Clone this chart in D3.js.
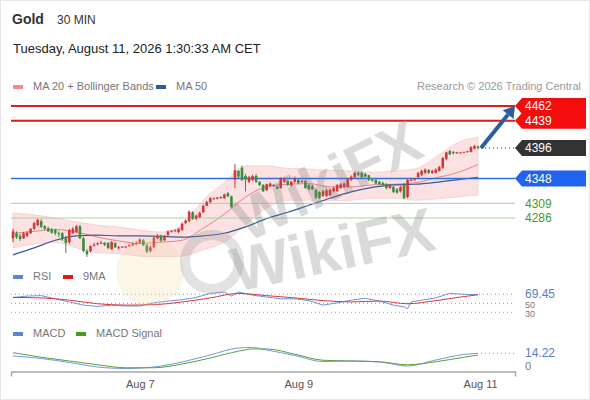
<!DOCTYPE html>
<html>
<head>
<meta charset="utf-8">
<script src="https://cdn.jsdelivr.net/npm/d3@7"></script>
<style>
  body { margin: 0; background: #fff; }
  svg { display: block; font-family: "Liberation Sans", Arial, sans-serif; }
</style>
</head>
<body>
<svg width="590" height="400"></svg>
<script>
// 30 min candles, Aug 6 morning -> Aug 11 01:00
var opens = [4254,4262,4258,4254,4258,4262,4269,4275,4281,4273,4270,4268,4267,4262,4262,4254,4248,4262,4264,4273,
  4254,4234,4234,4243,4245,4247,4247,4247,4237,4247,4240,4241,4241,4242,4243,4245,4247,4251,4243,4234,
  4240,4254,4258,4251,4259,4265,4266,4264,4267,4278,4281,4295,4285,4287,4295,4305,4311,4316,4317,4318,
  4317,4325,4320,4346,4360,4365,4352,4343,4346,4352,4343,4338,4330,4336,4338,4335,4333,4343,4344,4337,
  4343,4346,4343,4344,4338,4336,4330,4327,4321,4321,4322,4328,4328,4333,4335,4335,4346,4350,4357,4357,
  4355,4353,4346,4346,4343,4341,4339,4333,4335,4331,4328,4339,4319,4345,4346,4350,4354,4357,4361,4357,
  4357,4360,4365,4379,4391,4390,4389,4389,4389,4390,4390,4395,4398];
var highs = [4269,4265,4261,4264,4265,4270,4280,4285,4284,4275,4272,4270,4269,4265,4264,4258,4269,4272,4275,4275,
  4256,4237,4243,4247,4248,4250,4248,4248,4250,4248,4242,4242,4242,4245,4247,4249,4254,4253,4245,4243,
  4257,4261,4260,4259,4266,4267,4268,4270,4279,4284,4298,4297,4291,4296,4307,4313,4319,4318,4319,4320,
  4324,4327,4321,4371,4361,4368,4355,4352,4354,4355,4344,4339,4340,4342,4339,4337,4350,4349,4346,4344,
  4351,4347,4346,4346,4339,4338,4332,4328,4330,4332,4332,4335,4339,4341,4342,4349,4353,4358,4359,4358,
  4357,4354,4348,4347,4344,4343,4341,4339,4336,4333,4336,4341,4347,4348,4349,4358,4362,4364,4363,4362,
  4364,4368,4382,4390,4393,4391,4390,4390,4390,4391,4399,4401,4400];
var lows = [4248,4253,4250,4253,4256,4261,4267,4273,4270,4267,4264,4261,4259,4256,4250,4231,4245,4261,4262,4253,
  4232,4225,4232,4241,4243,4245,4242,4237,4236,4239,4237,4240,4240,4241,4242,4243,4245,4242,4231,4232,
  4239,4253,4248,4250,4258,4263,4264,4262,4266,4276,4280,4283,4283,4286,4294,4305,4309,4315,4315,4316,
  4316,4319,4302,4333,4349,4344,4328,4341,4344,4341,4336,4327,4328,4335,4335,4331,4332,4341,4336,4335,
  4341,4339,4341,4332,4330,4330,4316,4316,4319,4319,4321,4326,4327,4332,4333,4334,4344,4349,4352,4349,
  4350,4344,4343,4339,4338,4336,4331,4332,4325,4324,4326,4316,4317,4344,4345,4349,4352,4355,4355,4355,
  4356,4359,4363,4377,4385,4386,4387,4388,4388,4389,4389,4394,4394];
var closes = [4265,4256,4253,4262,4263,4269,4278,4283,4272,4269,4265,4263,4262,4261,4253,4247,4267,4269,4273,4254,
  4234,4229,4242,4244,4246,4247,4244,4239,4248,4240,4240,4241,4241,4243,4246,4247,4252,4243,4233,4240,
  4255,4258,4250,4258,4265,4266,4267,4269,4277,4282,4296,4285,4290,4294,4305,4311,4317,4317,4318,4319,
  4323,4320,4304,4361,4351,4346,4347,4350,4352,4343,4338,4328,4339,4340,4336,4332,4348,4347,4338,4343,
  4348,4341,4344,4333,4331,4331,4318,4317,4328,4329,4330,4333,4338,4339,4340,4347,4351,4357,4354,4350,
  4351,4346,4345,4340,4339,4338,4333,4337,4327,4326,4335,4317,4346,4346,4347,4357,4360,4362,4357,4360,
  4362,4366,4380,4389,4386,4388,4389,4389,4390,4391,4397,4399,4396];

// moving averages and Bollinger Bands, read every 6 candles
var maIdx = [0,6,12,18,24,30,36,42,48,54,60,66,72,78,84,90,96,102,108,114,120,126,132];
var ma20 = [4262,4265,4268,4264,4256,4250,4246,4248,4251,4270,4292,4319,4335,4339,4340,4335,4335,4338,4339,4341,4349,4357,4370];
var ma50 = [4228,4239,4251,4258,4259,4258,4258,4257,4256,4258,4262,4272,4285,4295,4306,4317,4327,4334,4338,4339,4342,4346,4350];
var bbUpper = [4294,4291,4286,4280,4275,4272,4267,4264,4275,4314,4342,4368,4368,4364,4363,4361,4360,4358,4360,4363,4382,4404,4413];
var bbLower = [4239,4245,4248,4239,4231,4230,4226,4225,4226,4236,4248,4275,4302,4314,4314,4313,4314,4317,4317,4314,4316,4319,4322];

// key levels
var levelValues = [4462, 4439, 4396, 4348, 4309, 4286];
var levelKinds = ["res", "res", "last", "pivot", "sup", "sup"];
var target = 4462;

// RSI + 9MA
var rsiIdx = [0,4,8,12,16,20,24,28,32,36,40,44,48,52,56,60,62,64,68,72,76,80,84,88,92,96,100,104,108,111,112,113,116,120,124,128,132];
var rsiVal = [63,66,67,60,53,46,43,46,44,44,51,55,58,63,72,75,66,75,68,64,60,60,56,46,51,57,61,55,46,42,38,53,57,62,72,70,69.45];
var rsiMaIdx = [0,8,16,24,32,40,48,56,64,72,80,88,96,104,112,120,128,132];
var rsiMa = [63,62,57,49,46,47,53,62,72,67,62,56,53,55,49,56,65,69];
var rsiLevels = [70, 50, 30];

// MACD
var macdIdx = [0,8,16,24,32,40,48,56,64,68,72,80,88,96,104,112,120,128,132];
var macd = [10.7,7.3,2,-4,-6,-4,2.7,12,21.3,22,18.7,11.3,3.3,4,2.7,-2.7,5.3,12.7,14.22];
var macdSignal = [15,9,4,-1,-5,-5,0,8,17,20,20,13,5,4,3,-1,3,9,12];

var dateTicks = [36, 81, 132.6];
var dateLabels = ["Aug 7", "Aug 9", "Aug 11"];

var svg = d3.select("svg"),
    width = +svg.attr("width"),
    height = +svg.attr("height"),
    n = closes.length,
    left = 11,
    right = 515,
    upColor = "#d2373a",
    downColor = "#3b8c3b";

svg.append("rect").attr("x", 0.5).attr("y", 0.5).attr("width", width - 1).attr("height", height - 1)
  .attr("fill", "#fff").attr("stroke", "#e6e6e6");

var x = d3.scaleLinear().domain([0, n - 1]).range([13, 478]);
var y = d3.scaleLinear().domain([4286, 4462]).range([218, 106]);
var yRsi = d3.scaleLinear().domain([30, 70]).range([312.3, 294.3]);
var yMacd = d3.scaleLinear().domain([0, 14.22]).range([364, 353.3]);

// header
svg.append("text").attr("x", 12).attr("y", 24).attr("font-size", 14).attr("font-weight", "bold")
  .attr("fill", "#333").text("Gold");
svg.append("text").attr("x", 57).attr("y", 23.5).attr("font-size", 12).attr("fill", "#333").text("30 MIN");
svg.append("text").attr("x", 13).attr("y", 53).attr("font-size", 13).attr("fill", "#222")
  .text("Tuesday, August 11, 2026 1:30:33 AM CET");

function legend(g, items, yy) {
  items.forEach(function(d) {
    g.append("rect").attr("x", d.x).attr("y", yy - 5).attr("width", d.w).attr("height", 4).attr("fill", d.color);
    g.append("text").attr("x", d.x + d.w + 10).attr("y", yy).attr("font-size", 11).attr("fill", "#777").text(d.label);
  });
}
legend(svg, [
  {x: 13, w: 10, color: "#f08c8c", label: "MA 20 + Bollinger Bands"},
  {x: 156, w: 10, color: "#2f5b98", label: "MA 50"}
], 90);
svg.append("text").attr("x", 581).attr("y", 90).attr("text-anchor", "end").attr("font-size", 11)
  .attr("fill", "#9a9a9a").text("Research \u00a9 2026 Trading Central");

// bands and averages
var bandData = maIdx.map(function(d, i) { return {i: d, hi: bbUpper[i], lo: bbLower[i], m20: ma20[i], m50: ma50[i]}; });
svg.append("path").datum(bandData)
  .attr("d", d3.area().curve(d3.curveMonotoneX)
    .x(function(d) { return x(d.i); }).y0(function(d) { return y(d.lo); }).y1(function(d) { return y(d.hi); }))
  .attr("fill", "#f7c9c9").attr("fill-opacity", 0.55)
  .attr("stroke", "#f3b5b5").attr("stroke-opacity", 0.6).attr("stroke-width", 0.8);
svg.append("path").datum(bandData)
  .attr("d", d3.line().curve(d3.curveMonotoneX).x(function(d) { return x(d.i); }).y(function(d) { return y(d.m20); }))
  .attr("fill", "none").attr("stroke", "#e58484").attr("stroke-width", 1);
svg.append("path").datum(bandData)
  .attr("d", d3.line().curve(d3.curveMonotoneX).x(function(d) { return x(d.i); }).y(function(d) { return y(d.m50); }))
  .attr("fill", "none").attr("stroke", "#355d9c").attr("stroke-width", 1.2);

// level lines
var levelStyle = {
  res:   {line: "#e01b1b", width: 2, box: "#f30d0d", text: "#fff"},
  last:  {line: null, width: 0, box: "#333333", text: "#fff"},
  pivot: {line: "#2f6fe4", width: 1.5, box: "#1f63ef", text: "#fff"},
  sup:   {line: "#a9d39d", width: 1, box: null, text: "#3f9a32"}
};
levelValues.forEach(function(v, i) {
  var s = levelStyle[levelKinds[i]];
  if (s.line) {
    svg.append("line").attr("x1", left).attr("x2", right).attr("y1", y(v)).attr("y2", y(v))
      .attr("stroke", s.line).attr("stroke-width", s.width);
  }
});
svg.append("line").attr("x1", x(n - 1) + 3).attr("x2", right).attr("y1", y(closes[n - 1])).attr("y2", y(closes[n - 1]))
  .attr("stroke", "#333").attr("stroke-dasharray", "1,3");

// candles
var candles = svg.append("g").selectAll("g").data(closes).enter().append("g");
candles.append("line")
  .attr("x1", function(d, i) { return x(i); }).attr("x2", function(d, i) { return x(i); })
  .attr("y1", function(d, i) { return y(highs[i]); }).attr("y2", function(d, i) { return y(lows[i]); })
  .attr("stroke", function(d, i) { return d >= opens[i] ? upColor : downColor; }).attr("stroke-width", 1);
candles.append("rect")
  .attr("x", function(d, i) { return x(i) - 1.3; }).attr("width", 2.6)
  .attr("y", function(d, i) { return y(Math.max(d, opens[i])); })
  .attr("height", function(d, i) { return Math.max(1, Math.abs(y(d) - y(opens[i]))); })
  .attr("fill", function(d, i) { return d >= opens[i] ? upColor : downColor; });

// forecast arrow
var ax0 = x(n - 1) + 3, ay0 = y(closes[n - 1]), ax1 = right, ay1 = y(target);
var ang = Math.atan2(ay1 - ay0, ax1 - ax0), head = 11;
svg.append("line").attr("x1", ax0).attr("y1", ay0)
  .attr("x2", ax1 - head * Math.cos(ang)).attr("y2", ay1 - head * Math.sin(ang))
  .attr("stroke", "#2c5d9e").attr("stroke-width", 4);
svg.append("path").attr("fill", "#2c5d9e").attr("d", d3.line()([
  [ax1, ay1],
  [ax1 - head * Math.cos(ang) + 7 * Math.sin(ang), ay1 - head * Math.sin(ang) - 7 * Math.cos(ang)],
  [ax1 - head * Math.cos(ang) - 7 * Math.sin(ang), ay1 - head * Math.sin(ang) + 7 * Math.cos(ang)]
]) + "Z");

// level tags
levelValues.forEach(function(v, i) {
  var s = levelStyle[levelKinds[i]], yy = y(v);
  if (s.box) {
    svg.append("path").attr("fill", s.box).attr("d", d3.line()([
      [515, yy], [522, yy - 8], [586, yy - 8], [586, yy + 8], [522, yy + 8]
    ]) + "Z");
  }
});
levelValues.forEach(function(v, i) {
  var s = levelStyle[levelKinds[i]];
  svg.append("text").attr("x", 525).attr("y", y(v)).attr("dy", "0.36em").attr("font-size", 12)
    .attr("fill", s.text).text(v);
});

// RSI panel
legend(svg, [
  {x: 13, w: 10, color: "#5b86d8", label: "RSI"},
  {x: 63, w: 10, color: "#e0191b", label: "9MA"}
], 280);
rsiLevels.forEach(function(v) {
  svg.append("line").attr("x1", left).attr("x2", right).attr("y1", yRsi(v)).attr("y2", yRsi(v))
    .attr("stroke", "#999").attr("stroke-dasharray", "1,3");
});
svg.append("path").datum(rsiIdx.map(function(d, i) { return [x(d), yRsi(rsiVal[i])]; }))
  .attr("d", d3.line()).attr("fill", "none").attr("stroke", "#6f93de").attr("stroke-width", 1);
svg.append("path").datum(rsiMaIdx.map(function(d, i) { return [x(d), yRsi(rsiMa[i])]; }))
  .attr("d", d3.line().curve(d3.curveMonotoneX)).attr("fill", "none").attr("stroke", "#d8383c").attr("stroke-width", 1);
svg.append("text").attr("x", 525).attr("y", yRsi(50)).attr("dy", "0.5em").attr("font-size", 9).attr("fill", "#777").text("50");
svg.append("text").attr("x", 525).attr("y", yRsi(30)).attr("dy", "0.5em").attr("font-size", 9).attr("fill", "#777").text("30");
svg.append("text").attr("x", 525).attr("y", yRsi(rsiVal[rsiVal.length - 1])).attr("dy", "0.28em").attr("font-size", 12)
  .attr("fill", "#5a7dc4").text(rsiVal[rsiVal.length - 1].toFixed(2));

// MACD panel
legend(svg, [
  {x: 13, w: 10, color: "#5b86d8", label: "MACD"},
  {x: 76, w: 10, color: "#4c9a26", label: "MACD Signal"}
], 337);
svg.append("path").datum(macdIdx.map(function(d, i) { return [x(d), yMacd(macd[i])]; }))
  .attr("d", d3.line().curve(d3.curveMonotoneX)).attr("fill", "none").attr("stroke", "#7797dd").attr("stroke-width", 1);
svg.append("path").datum(macdIdx.map(function(d, i) { return [x(d), yMacd(macdSignal[i])]; }))
  .attr("d", d3.line().curve(d3.curveMonotoneX)).attr("fill", "none").attr("stroke", "#58a03a").attr("stroke-width", 1);
var lastMacd = macd[macd.length - 1];
svg.append("line").attr("x1", x(n - 1) + 3).attr("x2", right).attr("y1", yMacd(lastMacd)).attr("y2", yMacd(lastMacd))
  .attr("stroke", "#999").attr("stroke-dasharray", "1,3");
svg.append("text").attr("x", 525).attr("y", yMacd(lastMacd)).attr("dy", "0.3em").attr("font-size", 12)
  .attr("fill", "#5a7dc4").text(lastMacd.toFixed(2));
svg.append("text").attr("x", 525).attr("y", yMacd(0)).attr("dy", "0.5em").attr("font-size", 11)
  .attr("fill", "#777").text("0");

// time axis
var xAxisScale = x.copy().domain([x.invert(left), x.invert(right)]).range([left, right]);
var axis = svg.append("g").attr("transform", "translate(0,371.5)")
  .call(d3.axisBottom(xAxisScale).tickValues(dateTicks)
    .tickFormat(function(d, i) { return dateLabels[i]; })
    .tickSizeInner(0).tickSizeOuter(5).tickPadding(9));
axis.select(".domain").attr("stroke", "#a8a8a8").attr("stroke-width", 1.5);
axis.selectAll("text").attr("font-size", 11).attr("fill", "#555").attr("font-family", "Liberation Sans, Arial, sans-serif");

// WikiFX watermark
var wm = svg.append("g").attr("pointer-events", "none");
wm.append("circle").attr("cx", 150).attr("cy", 272).attr("r", 34).attr("fill", "#f2d49a").attr("opacity", 0.22);
wm.append("circle").attr("cx", 212).attr("cy", 262).attr("r", 27).attr("fill", "none")
  .attr("stroke", "#8a8a8a").attr("stroke-width", 10).attr("opacity", 0.25);
wm.append("text").attr("transform", "translate(247,243) rotate(-26)")
  .attr("font-size", 60).attr("font-weight", "bold").attr("fill", "#7d7d7d").attr("opacity", 0.28).text("WikiFX");
wm.append("text").attr("transform", "translate(236,292) rotate(-12)")
  .attr("font-size", 62).attr("font-weight", "bold").attr("fill", "#7d7d7d").attr("opacity", 0.28).text("WikiFX");
</script>
</body>
</html>
